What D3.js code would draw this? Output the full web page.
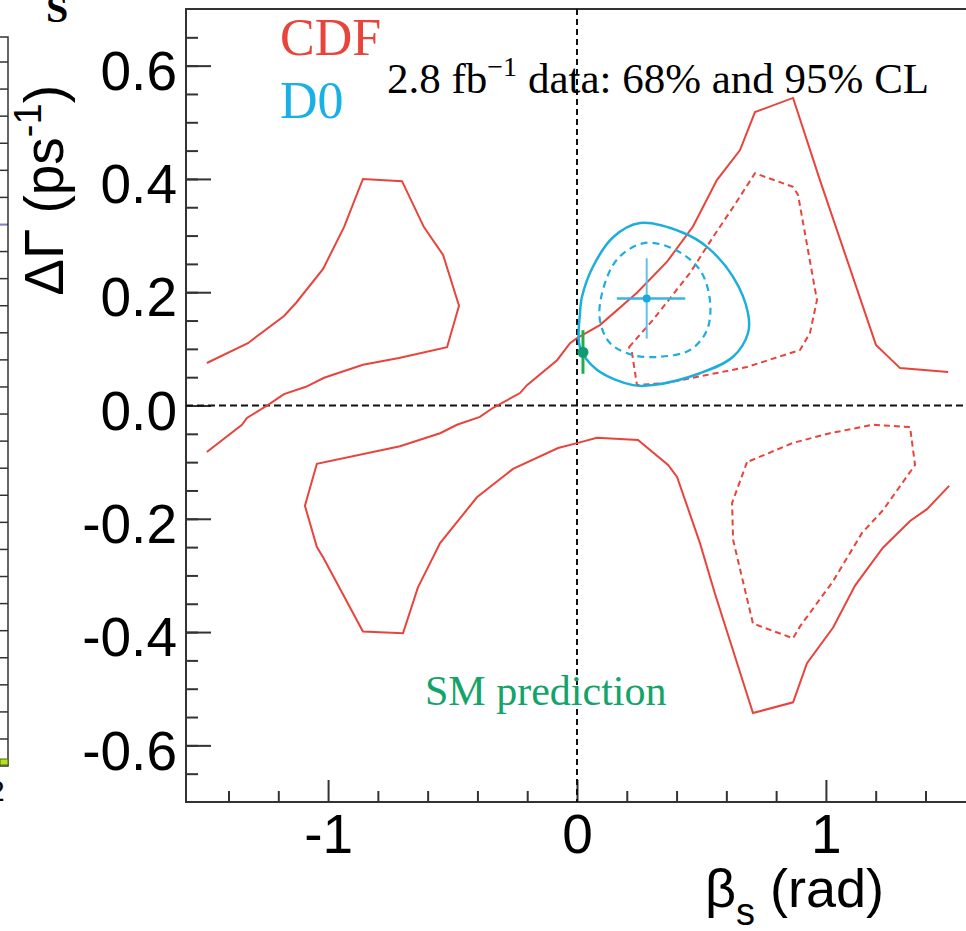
<!DOCTYPE html>
<html>
<head>
<meta charset="utf-8">
<script src="https://d3js.org/d3.v7.min.js"></script>
<style>
  body { margin: 0; background: #fff; }
  svg { display: block; }
  .tick text { font-family: "Liberation Sans", Arial, sans-serif; }
</style>
</head>
<body>
<script>
  // contour points, [beta_s (rad), DeltaGamma (ps^-1)]
  var cdf95Left = [[-1.487,-0.082],[-1.346,-0.034],[-1.326,-0.022],[-1.241,0.001],[-1.177,0.020],
    [-1.089,0.033],[-1.016,0.049],[-0.860,0.072],[-0.715,0.084],[-0.522,0.103],[-0.474,0.176],
    [-0.538,0.266],[-0.615,0.315],[-0.703,0.396],[-0.860,0.400],[-0.936,0.315],[-1.020,0.241],
    [-1.129,0.181],[-1.177,0.158],[-1.322,0.110],[-1.487,0.075]];

  var cdf95Band = [[1.491,0.059],[1.298,0.066],[1.201,0.107],[0.976,0.398],[0.868,0.543],
    [0.715,0.518],[0.655,0.451],[0.562,0.398],[0.466,0.316],[0.362,0.254],[0.241,0.199],
    [0.092,0.142],[0.000,0.119],[-0.028,0.110],[-0.080,0.080],[-0.201,0.036],[-0.229,0.022],
    [-0.337,-0.004],[-0.390,-0.020],[-0.482,-0.034],[-0.550,-0.049],[-0.711,-0.072],
    [-1.045,-0.103],[-1.093,-0.177],[-1.045,-0.250],[-1.020,-0.268],[-0.860,-0.399],
    [-0.699,-0.402],[-0.639,-0.321],[-0.550,-0.243],[-0.402,-0.162],[-0.257,-0.112],
    [-0.076,-0.075],[0.004,-0.066],[0.080,-0.057],[0.245,-0.061],[0.366,-0.105],[0.402,-0.126],
    [0.494,-0.243],[0.554,-0.332],[0.707,-0.543],[0.868,-0.524],[0.924,-0.455],[1.029,-0.392],
    [1.117,-0.318],[1.229,-0.251],[1.338,-0.204],[1.406,-0.183],[1.495,-0.142]];

  var cdf68Upper = [[0.209,0.103],[0.305,0.151],[0.454,0.234],[0.546,0.297],[0.627,0.350],
    [0.715,0.410],[0.868,0.386],[0.888,0.372],[0.964,0.186],[0.936,0.128],[0.896,0.098],
    [0.683,0.068],[0.466,0.049],[0.362,0.040],[0.241,0.036],[0.221,0.093]];

  var cdf68Lower = [[0.683,-0.100],[0.623,-0.172],[0.627,-0.237],[0.707,-0.385],[0.868,-0.411],
    [0.896,-0.390],[1.029,-0.310],[1.145,-0.225],[1.229,-0.185],[1.358,-0.105],[1.338,-0.038],
    [1.189,-0.034],[1.016,-0.049],[0.868,-0.066]];

  var d095 = [[0.012,0.163],[0.012,0.103],[0.080,0.063],[0.225,0.036],[0.305,0.036],[0.494,0.057],
    [0.627,0.086],[0.687,0.128],[0.687,0.163],[0.627,0.227],[0.522,0.280],[0.426,0.305],
    [0.253,0.322],[0.145,0.297],[0.064,0.245],[0.020,0.192]];

  var d068 = [[0.273,0.287],[0.394,0.275],[0.494,0.239],[0.534,0.186],[0.522,0.133],[0.454,0.098],
    [0.333,0.086],[0.225,0.089],[0.133,0.110],[0.092,0.151],[0.104,0.204],[0.165,0.260]];

  // central value with errors: x, xlo, xhi, y, ylo, yhi
  var d0Point = [0.28, 0.16, 0.435, 0.189, 0.118, 0.260];
  var smPoint = [0.024, 0.094, 0.056, 0.133];

  var xMajor = [-1, 0, 1];
  var xMinor = [-1.4, -1.2, -0.8, -0.6, -0.4, -0.2, 0.2, 0.4, 0.6, 0.8, 1.2, 1.4];
  var yMajor = [-0.6, -0.4, -0.2, 0.0, 0.2, 0.4, 0.6];
  var yMinor = d3.range(-13, 14).map(function (i) { return i * 0.05; });

  var red = "#e8443b", blue = "#1eaede", green = "#14a36a";

  var width = 966, height = 931;
  var svg = d3.select("body").append("svg")
    .attr("width", width)
    .attr("height", height);
  svg.append("rect").attr("width", width).attr("height", height).attr("fill", "#fff");

  var x = d3.scaleLinear().domain([-Math.PI / 2, Math.PI / 2]).range([186, 968]);
  var y = d3.scaleLinear().domain([-0.7, 0.7]).range([802, 9]);

  // bit of the neighbouring panel, cut off at the left edge
  var ny = d3.scaleLinear().domain([0, 25]).range([62, 739]);
  var nb = svg.append("g").attr("stroke", "#333").attr("stroke-width", 1.5);
  nb.append("path").attr("fill", "none").attr("d", "M0,37H8V766H0");
  nb.selectAll(".nt").data(d3.range(26)).enter().append("line")
    .attr("x1", 0).attr("x2", 8)
    .attr("y1", function (d) { return ny(d); }).attr("y2", function (d) { return ny(d); });
  svg.append("line").attr("x1", 0).attr("x2", 7).attr("y1", 225).attr("y2", 225)
    .attr("stroke", "#9a9cf0").attr("stroke-width", 1.5);
  svg.append("rect").attr("x", 0).attr("y", 759).attr("width", 8).attr("height", 6)
    .attr("fill", "#b6e21c").attr("stroke", "#556b10").attr("stroke-width", 1);
  svg.append("text").attr("x", -12).attr("y", 801)
    .style("font-family", "Liberation Sans, Arial").style("font-size", "30px").text("2");
  svg.append("text").attr("x", 46).attr("y", 22)
    .style("font-family", "Liberation Serif, Times New Roman").style("font-weight", "bold")
    .style("font-size", "40px").text("S");

  // frame
  svg.append("rect")
    .attr("x", x.range()[0]).attr("y", y.range()[1])
    .attr("width", x.range()[1] - x.range()[0]).attr("height", y.range()[0] - y.range()[1])
    .attr("fill", "none").attr("stroke", "#333").attr("stroke-width", 2);

  function noDomain(g) {
    g.select(".domain").remove();
    g.selectAll(".tick line").attr("stroke", "#333").attr("stroke-width", 2);
  }

  // y ticks, pointing inside
  svg.append("g").attr("transform", "translate(186,0)")
    .call(d3.axisRight(y).tickValues(yMinor).tickSize(12).tickFormat(""))
    .call(noDomain);
  svg.append("g").attr("transform", "translate(186,0)")
    .call(d3.axisRight(y).tickValues(yMajor).tickSize(25).tickFormat(""))
    .call(noDomain);
  var yl = svg.append("g").attr("transform", "translate(186,0)")
    .call(d3.axisLeft(y).tickValues(yMajor).tickSize(0).tickPadding(9)
      .tickFormat(function (d) { return d.toFixed(1); }))
    .call(noDomain);
  yl.selectAll("text").attr("dy", "0.43em").style("font-size", "55px").attr("fill", "#000");

  // x ticks
  svg.append("g").attr("transform", "translate(0,802)")
    .call(d3.axisTop(x).tickValues(xMinor).tickSize(11).tickFormat(""))
    .call(noDomain);
  svg.append("g").attr("transform", "translate(0,802)")
    .call(d3.axisTop(x).tickValues(xMajor).tickSize(22).tickFormat(""))
    .call(noDomain);
  var xl = svg.append("g").attr("transform", "translate(0,802)")
    .call(d3.axisBottom(x).tickValues(xMajor).tickSize(0).tickPadding(12)
      .tickFormat(function (d) { return String(d); }))
    .call(noDomain);
  xl.selectAll("text").style("font-size", "55px").attr("fill", "#000");

  // zero lines
  svg.append("line")
    .attr("x1", x(0)).attr("x2", x(0)).attr("y1", y.range()[1]).attr("y2", y.range()[0])
    .attr("stroke", "#111").attr("stroke-width", 2).attr("stroke-dasharray", "6,4");
  svg.append("line")
    .attr("x1", x.range()[0]).attr("x2", x.range()[1]).attr("y1", y(0)).attr("y2", y(0))
    .attr("stroke", "#111").attr("stroke-width", 2).attr("stroke-dasharray", "7,4");

  var poly = d3.line().x(function (d) { return x(d[0]); }).y(function (d) { return y(d[1]); });
  var polyClosed = d3.line().x(function (d) { return x(d[0]); }).y(function (d) { return y(d[1]); })
    .curve(d3.curveLinearClosed);
  var smooth = d3.line().x(function (d) { return x(d[0]); }).y(function (d) { return y(d[1]); })
    .curve(d3.curveCatmullRomClosed.alpha(0.5));

  // CDF contours
  svg.append("path").attr("d", poly(cdf95Left))
    .attr("fill", "none").attr("stroke", red).attr("stroke-width", 2);
  svg.append("path").attr("d", poly(cdf95Band))
    .attr("fill", "none").attr("stroke", red).attr("stroke-width", 2);
  [cdf68Upper, cdf68Lower].forEach(function (c) {
    svg.append("path").attr("d", polyClosed(c))
      .attr("fill", "none").attr("stroke", red).attr("stroke-width", 2)
      .attr("stroke-dasharray", "6,4");
  });

  // D0 contours
  svg.append("path").attr("d", smooth(d095))
    .attr("fill", "none").attr("stroke", blue).attr("stroke-width", 2.5);
  svg.append("path").attr("d", smooth(d068))
    .attr("fill", "none").attr("stroke", blue).attr("stroke-width", 2.2)
    .attr("stroke-dasharray", "7,5");

  // D0 central value
  svg.append("line")
    .attr("x1", x(d0Point[1])).attr("x2", x(d0Point[2]))
    .attr("y1", y(d0Point[3])).attr("y2", y(d0Point[3]))
    .attr("stroke", "#38b4e4").attr("stroke-width", 2.5);
  svg.append("line")
    .attr("x1", x(d0Point[0])).attr("x2", x(d0Point[0]))
    .attr("y1", y(d0Point[4])).attr("y2", y(d0Point[5]))
    .attr("stroke", "#5cc3ea").attr("stroke-width", 2);
  svg.append("circle").attr("cx", x(d0Point[0])).attr("cy", y(d0Point[3])).attr("r", 4)
    .attr("fill", "#1aa8e0");

  // SM prediction
  svg.append("line")
    .attr("x1", x(smPoint[0])).attr("x2", x(smPoint[0]))
    .attr("y1", y(smPoint[2])).attr("y2", y(smPoint[3]))
    .attr("stroke", "#1fae4a").attr("stroke-width", 3);
  svg.append("circle").attr("cx", x(smPoint[0])).attr("cy", y(smPoint[1])).attr("r", 5.5)
    .attr("fill", "#129a72");

  // labels
  var serif = "Liberation Serif, Times New Roman, serif";
  var sans = "Liberation Sans, Arial, sans-serif";
  svg.append("text").attr("x", 280).attr("y", 55)
    .style("font-family", serif).style("font-size", "52px").attr("fill", red).text("CDF");
  svg.append("text").attr("x", 280).attr("y", 118)
    .style("font-family", serif).style("font-size", "52px").attr("fill", "#19b0e6").text("D0");

  var lum = svg.append("text").attr("x", 387).attr("y", 93)
    .style("font-family", serif).style("font-size", "43px").attr("fill", "#000");
  lum.append("tspan").text("2.8 fb");
  lum.append("tspan").attr("dy", -17).style("font-size", "28px").text("\u22121");
  lum.append("tspan").attr("dy", 17).text(" data: 68% and 95% CL");

  svg.append("text").attr("x", 425).attr("y", 705)
    .style("font-family", serif).style("font-size", "42px").attr("fill", green)
    .text("SM prediction");

  var yt = svg.append("text").attr("transform", "translate(63,85) rotate(-90)")
    .attr("text-anchor", "end")
    .style("font-family", sans).style("font-size", "55px").attr("fill", "#000");
  yt.append("tspan").text("\u0394\u0393 (ps");
  yt.append("tspan").attr("dy", -22).style("font-size", "38px").text("-1");
  yt.append("tspan").attr("dy", 22).text(")");

  var xt = svg.append("text").attr("x", 884).attr("y", 907)
    .attr("text-anchor", "end")
    .style("font-family", sans).style("font-size", "54px").attr("fill", "#000");
  xt.append("tspan").text("\u03b2");
  xt.append("tspan").attr("dy", 18).style("font-size", "38px").text("s");
  xt.append("tspan").attr("dy", -18).text(" (rad)");
</script>
</body>
</html>
